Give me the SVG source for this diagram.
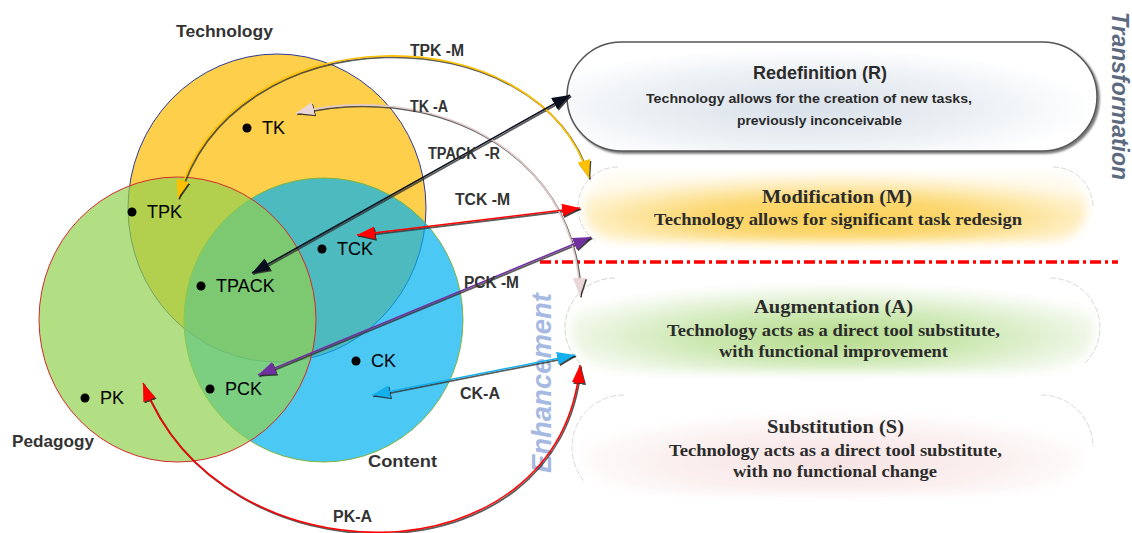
<svg xmlns="http://www.w3.org/2000/svg" width="1132" height="533" viewBox="0 0 1132 533">
<style>
.lbl{font-family:"Liberation Sans",Arial,sans-serif;font-weight:bold;fill:#333333;font-size:16px}
.big{font-family:"Liberation Sans",Arial,sans-serif;font-weight:bold;fill:#333333;font-size:17px}
.node{font-family:"Liberation Sans",Arial,sans-serif;fill:#000;font-size:18px}
.rs{font-family:"Liberation Sans",Arial,sans-serif;font-weight:bold;fill:#2b2b2b}
.sr{font-family:"Liberation Serif","Times New Roman",serif;font-weight:bold;fill:#2b2b2b}
.con{fill:none;stroke-width:1.6}
.shd{fill:none;stroke:#333;stroke-width:1.8;stroke-opacity:0.8}
.ghost{fill:none;stroke-width:0.8;stroke-dasharray:6 2;stroke-opacity:0.7}
</style>
<defs>
<radialGradient id="gR" cx="0.45" cy="0.6" r="0.55">
<stop offset="0" stop-color="#D8E0E9"/><stop offset="0.6" stop-color="#EDF1F5"/><stop offset="1" stop-color="#FFFFFF"/>
</radialGradient>
<radialGradient id="gM" cx="0.5" cy="0.65" r="0.62">
<stop offset="0" stop-color="#FAD055"/><stop offset="0.45" stop-color="#FCD872"/><stop offset="0.8" stop-color="#FEEFC4"/><stop offset="1" stop-color="#FFFBF0"/>
</radialGradient>
<radialGradient id="gA" cx="0.5" cy="0.6" r="0.6">
<stop offset="0" stop-color="#B4DB8A"/><stop offset="0.45" stop-color="#CDE8B3"/><stop offset="0.85" stop-color="#F1F8EA"/><stop offset="1" stop-color="#FFFFFF"/>
</radialGradient>
<radialGradient id="gS" cx="0.5" cy="0.65" r="0.55">
<stop offset="0" stop-color="#F6E2E2"/><stop offset="0.6" stop-color="#FBF0F0"/><stop offset="1" stop-color="#FFFFFF"/>
</radialGradient>
<filter id="sh" x="-5%" y="-10%" width="115%" height="130%">
<feDropShadow dx="2" dy="2" stdDeviation="1.2" flood-color="#000" flood-opacity="0.55"/>
</filter>
<filter id="soft" x="-5%" y="-20%" width="110%" height="140%">
<feGaussianBlur stdDeviation="5"/>
</filter>
<marker id="mY" viewBox="0 0 18 13" refX="18" refY="6.5" markerWidth="18" markerHeight="13" markerUnits="userSpaceOnUse" orient="auto-start-reverse"><path d="M0,0 L18,6.5 L0,13 z" fill="#FFC000"/></marker>
<marker id="mP" viewBox="0 0 18 13" refX="18" refY="6.5" markerWidth="18" markerHeight="13" markerUnits="userSpaceOnUse" orient="auto-start-reverse"><path d="M0,0 L18,6.5 L0,13 z" fill="#EAD6D6"/></marker>
<marker id="mK" viewBox="0 0 18 13" refX="18" refY="6.5" markerWidth="18" markerHeight="13" markerUnits="userSpaceOnUse" orient="auto-start-reverse"><path d="M0,0 L18,6.5 L0,13 z" fill="#0A0F1F"/></marker>
<marker id="mR" viewBox="0 0 18 13" refX="18" refY="6.5" markerWidth="18" markerHeight="13" markerUnits="userSpaceOnUse" orient="auto-start-reverse"><path d="M0,0 L18,6.5 L0,13 z" fill="#FF0000"/></marker>
<marker id="mV" viewBox="0 0 18 13" refX="18" refY="6.5" markerWidth="18" markerHeight="13" markerUnits="userSpaceOnUse" orient="auto-start-reverse"><path d="M0,0 L18,6.5 L0,13 z" fill="#7030A0"/></marker>
<marker id="mC" viewBox="0 0 18 13" refX="18" refY="6.5" markerWidth="18" markerHeight="13" markerUnits="userSpaceOnUse" orient="auto-start-reverse"><path d="M0,0 L18,6.5 L0,13 z" fill="#14B0EE"/></marker>
<marker id="mS" viewBox="0 0 18 13" refX="18" refY="6.5" markerWidth="18" markerHeight="13" markerUnits="userSpaceOnUse" orient="auto-start-reverse"><path d="M0,0 L18,6.5 L0,13 z" fill="#222" fill-opacity="0.85"/></marker>
</defs>
<rect width="1132" height="533" fill="#FFFFFF"/>

<g id="venn">
<ellipse id="technology" cx="277" cy="208" rx="149" ry="154" fill="#FDCF4A" stroke="#2E3A9A" stroke-width="1"/>
<ellipse id="content" cx="323.5" cy="320" rx="139.5" ry="142" fill="#00B0F0" fill-opacity="0.7" stroke="#7DB342" stroke-width="1"/>
<ellipse id="pedagogy" cx="177.5" cy="319.5" rx="138.5" ry="142.5" fill="#92D050" fill-opacity="0.7" stroke="#D42A2A" stroke-width="1"/>
</g>

<g id="venn-labels">
<text class="big" x="176" y="37" textLength="97" lengthAdjust="spacingAndGlyphs">Technology</text>
<text class="big" x="12" y="447" textLength="82" lengthAdjust="spacingAndGlyphs">Pedagogy</text>
<text class="big" x="368" y="467" textLength="69" lengthAdjust="spacingAndGlyphs">Content</text>
</g>

<g id="node-TK"><circle cx="247" cy="128" r="4.5"/><text class="node" x="262" y="134">TK</text></g>
<g id="node-TPK"><circle cx="132" cy="212" r="4.5"/><text class="node" x="147" y="218">TPK</text></g>
<g id="node-TCK"><circle cx="322" cy="249" r="4.5"/><text class="node" x="337" y="255">TCK</text></g>
<g id="node-TPACK"><circle cx="201" cy="286" r="4.5"/><text class="node" x="216" y="292">TPACK</text></g>
<g id="node-CK"><circle cx="356" cy="361" r="4.5"/><text class="node" x="371" y="367">CK</text></g>
<g id="node-PCK"><circle cx="210" cy="389" r="4.5"/><text class="node" x="225" y="395">PCK</text></g>
<g id="node-PK"><circle cx="85" cy="398" r="4.5"/><text class="node" x="100" y="404">PK</text></g>

<g id="node-R">
<rect x="567" y="42" width="530" height="109" rx="54.5" fill="url(#gR)" stroke="#555" stroke-width="1.5" filter="url(#sh)"/>
<text class="rs" font-size="17.5" x="753" y="79" textLength="134" lengthAdjust="spacingAndGlyphs">Redefinition (R)</text>
<text class="rs" font-size="13.5" x="646" y="103" textLength="326" lengthAdjust="spacingAndGlyphs">Technology allows for the creation of new tasks,</text>
<text class="rs" font-size="13.5" x="737" y="125" textLength="165" lengthAdjust="spacingAndGlyphs">previously inconceivable</text>
</g>

<g id="node-M">
<rect x="584" y="172" width="503" height="70" rx="35" fill="url(#gM)" filter="url(#soft)"/>
<path class="ghost" stroke="#BBBBBB" d="M618,167 A40,40 0 0,0 578,207 A40,40 0 0,0 596,241"/>
<path class="ghost" stroke="#BBBBBB" d="M1053,167 A40,40 0 0,1 1093,207"/>
<text class="sr" font-size="18" x="762" y="203" textLength="150" lengthAdjust="spacingAndGlyphs">Modification (M)</text>
<text class="sr" font-size="16.5" x="654" y="225" textLength="368" lengthAdjust="spacingAndGlyphs">Technology allows for significant task redesign</text>
</g>

<line id="divider" x1="540" y1="262" x2="1118" y2="262" stroke="#FF0000" stroke-width="3.5" stroke-dasharray="11 4 3 4"/>

<g id="node-A">
<rect x="571" y="284" width="523" height="88" rx="44" fill="url(#gA)" filter="url(#soft)"/>
<path class="ghost" stroke="#A9B9A0" d="M615,278 A50,50 0 0,0 565,328 A50,50 0 0,0 580,363"/>
<path class="ghost" stroke="#BBBBBB" d="M1050,278 A50,50 0 0,1 1100,328 A50,50 0 0,1 1085,363"/>
<text class="sr" font-size="18" x="754" y="313" textLength="159" lengthAdjust="spacingAndGlyphs">Augmentation (A)</text>
<text class="sr" font-size="16.5" x="667" y="336" textLength="333" lengthAdjust="spacingAndGlyphs">Technology acts as a direct tool substitute,</text>
<text class="sr" font-size="16.5" x="719" y="357" textLength="229" lengthAdjust="spacingAndGlyphs">with functional improvement</text>
</g>

<g id="node-S">
<rect x="578" y="401" width="509" height="93" rx="46" fill="url(#gS)" filter="url(#soft)"/>
<path class="ghost" stroke="#BBBBBB" d="M624,395 A52,52 0 0,0 572,447 A52,52 0 0,0 585,482"/>
<path class="ghost" stroke="#BBBBBB" d="M1041,395 A52,52 0 0,1 1093,447"/>
<text class="sr" font-size="18" x="767" y="433" textLength="137" lengthAdjust="spacingAndGlyphs">Substitution (S)</text>
<text class="sr" font-size="16.5" x="669" y="456" textLength="333" lengthAdjust="spacingAndGlyphs">Technology acts as a direct tool substitute,</text>
<text class="sr" font-size="16.5" x="733" y="477" textLength="204" lengthAdjust="spacingAndGlyphs">with no functional change</text>
</g>

<text id="enhancement" transform="translate(551,473) rotate(-90)" font-family="'Liberation Sans',Arial,sans-serif" font-weight="bold" font-style="italic" font-size="27" fill="#A5B9E2" textLength="180" lengthAdjust="spacingAndGlyphs">Enhancement</text>
<text id="transformation" transform="translate(1112,12) rotate(90)" font-family="'Liberation Sans',Arial,sans-serif" font-weight="bold" font-style="italic" font-size="23" fill="#5C6A80" textLength="168" lengthAdjust="spacingAndGlyphs">Transformation</text>

<g id="connectors">
<g id="connector-shadows" transform="translate(1.2,1.4)">
<path class="shd" marker-start="url(#mS)" marker-end="url(#mS)" d="M178,198 C230,12 540,12 589,178"/>
<path class="shd" marker-start="url(#mS)" marker-end="url(#mS)" d="M296,113 C420,82 575,140 580,296"/>
<path class="shd" marker-start="url(#mS)" marker-end="url(#mS)" d="M252,273 L570,95"/>
<path class="shd" marker-start="url(#mS)" marker-end="url(#mS)" d="M357,235 L580,208"/>
<path class="shd" marker-start="url(#mS)" marker-end="url(#mS)" d="M258,375 L591,237"/>
<path class="shd" marker-start="url(#mS)" marker-end="url(#mS)" d="M372,395 L575,355"/>
<path class="shd" marker-start="url(#mS)" marker-end="url(#mS)" d="M143,383 C220,585 560,585 580,365"/>
</g>
<path id="c-TPK-M" class="con" stroke="#FFC000" marker-start="url(#mY)" marker-end="url(#mY)" d="M178,198 C230,12 540,12 589,178"/>
<path id="c-TK-A" class="con" stroke="#E3CCCC" marker-start="url(#mP)" marker-end="url(#mP)" d="M296,113 C420,82 575,140 580,296"/>
<path id="c-TPACK-R" class="con" stroke="#0A0F1F" marker-start="url(#mK)" marker-end="url(#mK)" d="M252,273 L570,95"/>
<path id="c-TCK-M" class="con" stroke="#FF0000" marker-start="url(#mR)" marker-end="url(#mR)" d="M357,235 L580,208"/>
<path id="c-PCK-M" class="con" stroke="#7030A0" marker-start="url(#mV)" marker-end="url(#mV)" d="M258,375 L591,237"/>
<path id="c-CK-A" class="con" stroke="#14B0EE" marker-start="url(#mC)" marker-end="url(#mC)" d="M372,395 L575,355"/>
<path id="c-PK-A" class="con" stroke="#FF0000" marker-start="url(#mR)" marker-end="url(#mR)" d="M143,383 C220,585 560,585 580,365"/>
<text class="lbl" x="410" y="56" textLength="54" lengthAdjust="spacingAndGlyphs">TPK -M</text>
<text class="lbl" x="410" y="112" textLength="38" lengthAdjust="spacingAndGlyphs">TK -A</text>
<text class="lbl" x="428" y="159" textLength="72" lengthAdjust="spacingAndGlyphs" style="white-space:pre">TPACK  -R</text>
<text class="lbl" x="455" y="205" textLength="55" lengthAdjust="spacingAndGlyphs">TCK -M</text>
<text class="lbl" x="464" y="288" textLength="55" lengthAdjust="spacingAndGlyphs">PCK -M</text>
<text class="lbl" x="460" y="399" textLength="40" lengthAdjust="spacingAndGlyphs">CK-A</text>
<text class="lbl" x="333" y="522" textLength="39" lengthAdjust="spacingAndGlyphs">PK-A</text>
</g>
</svg>
